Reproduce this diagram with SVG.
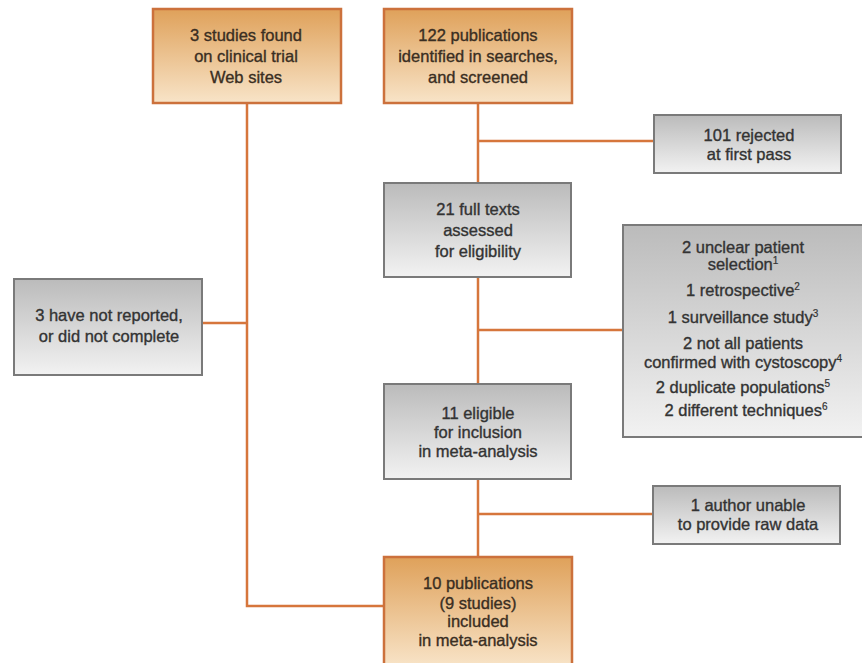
<svg xmlns="http://www.w3.org/2000/svg" width="862" height="663" viewBox="0 0 862 663">
<defs>
<linearGradient id="og" x1="0" y1="0" x2="0" y2="1">
<stop offset="0" stop-color="#DFA15A"/>
<stop offset="1" stop-color="#F8E4C8"/>
</linearGradient>
<linearGradient id="gg" x1="0" y1="0" x2="0" y2="1">
<stop offset="0" stop-color="#BBBBBB"/>
<stop offset="1" stop-color="#F2F2F2"/>
</linearGradient>
<style>
.o{fill:url(#og);stroke:#CC713C;stroke-width:2.5}
.g{fill:url(#gg);stroke:#7A7A7A;stroke-width:2}
.c{fill:none;stroke:#D6763C;stroke-width:2.5}
text{font-family:"Liberation Sans",Arial,sans-serif;font-size:16.5px;text-anchor:middle;fill:#333;stroke:#333;stroke-width:0.35}
.ot{fill:#3A2E22;stroke:#3A2E22}
.s{font-size:10px;stroke-width:0.2}
</style>
</defs>
<rect width="862" height="663" fill="#fff"/>
<g id="connectors">
<polyline class="c" points="247,103 247,606 384,606"/>
<line class="c" x1="202" y1="323" x2="247" y2="323"/>
<line class="c" x1="478" y1="103" x2="478" y2="183"/>
<line class="c" x1="478" y1="141" x2="654" y2="141"/>
<line class="c" x1="478" y1="277" x2="478" y2="384"/>
<line class="c" x1="478" y1="330" x2="623" y2="330"/>
<line class="c" x1="478" y1="479" x2="478" y2="557"/>
<line class="c" x1="478" y1="514" x2="653" y2="514"/>
</g>
<g id="clinical">
<rect class="o" x="153" y="9" width="188" height="94"/>
<text class="ot" x="246" y="41">3 studies found</text>
<text class="ot" x="246" y="62">on clinical trial</text>
<text class="ot" x="246" y="83">Web sites</text>
</g>
<g id="identified">
<rect class="o" x="384" y="9" width="188" height="94"/>
<text class="ot" x="478" y="41">122 publications</text>
<text class="ot" x="478" y="62">identified in searches,</text>
<text class="ot" x="478" y="83">and screened</text>
</g>
<g id="rejected">
<rect class="g" x="654" y="115" width="187" height="58"/>
<text x="749" y="141">101 rejected</text>
<text x="749" y="160">at first pass</text>
</g>
<g id="fulltexts">
<rect class="g" x="384" y="183" width="187" height="94"/>
<text x="478" y="215">21 full texts</text>
<text x="478" y="236">assessed</text>
<text x="478" y="257">for eligibility</text>
</g>
<g id="excluded">
<rect class="g" x="623" y="225" width="245" height="212"/>
<text x="743" y="253">2 unclear patient</text>
<text x="743" y="270">selection<tspan class="s" dy="-6">1</tspan></text>
<text x="743" y="296">1 retrospective<tspan class="s" dy="-6">2</tspan></text>
<text x="743" y="323">1 surveillance study<tspan class="s" dy="-6">3</tspan></text>
<text x="743" y="349">2 not all patients</text>
<text x="743" y="368">confirmed with cystoscopy<tspan class="s" dy="-6">4</tspan></text>
<text x="743" y="393">2 duplicate populations<tspan class="s" dy="-6">5</tspan></text>
<text x="746" y="416">2 different techniques<tspan class="s" dy="-6">6</tspan></text>
</g>
<g id="notreported">
<rect class="g" x="14" y="279" width="188" height="96"/>
<text x="109" y="321">3 have not reported,</text>
<text x="109" y="342">or did not complete</text>
</g>
<g id="eligible">
<rect class="g" x="384" y="384" width="187" height="95"/>
<text x="478" y="419">11 eligible</text>
<text x="478" y="438">for inclusion</text>
<text x="478" y="457">in meta-analysis</text>
</g>
<g id="author">
<rect class="g" x="653" y="486" width="187" height="58"/>
<text x="748" y="511">1 author unable</text>
<text x="748" y="530">to provide raw data</text>
</g>
<g id="included">
<rect class="o" x="384" y="557" width="188" height="110"/>
<text class="ot" x="478" y="589">10 publications</text>
<text class="ot" x="478" y="609">(9 studies)</text>
<text class="ot" x="478" y="627">included</text>
<text class="ot" x="478" y="646">in meta-analysis</text>
</g>
</svg>
